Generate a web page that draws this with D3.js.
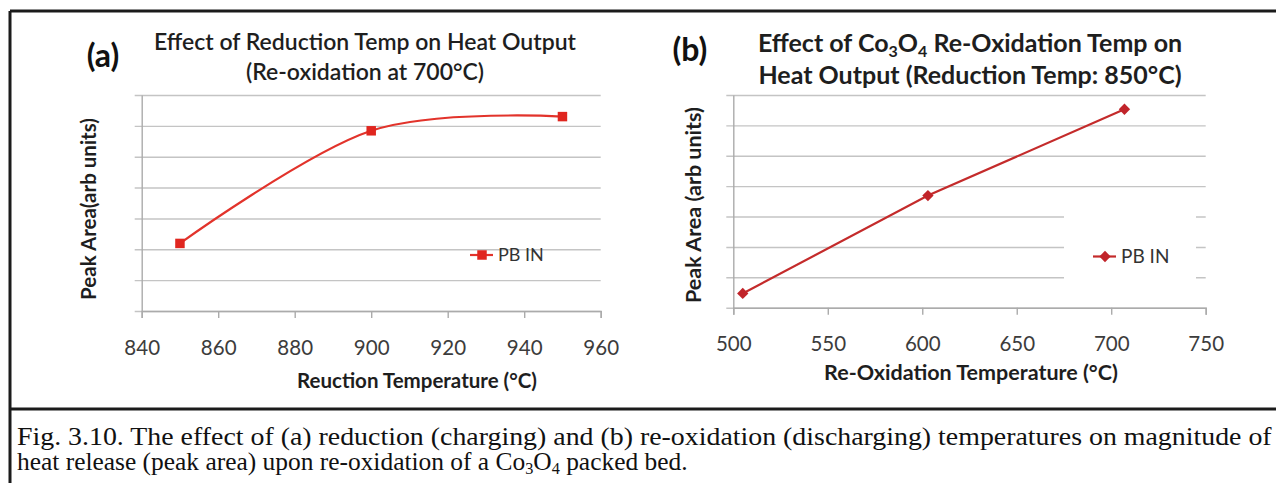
<!DOCTYPE html>
<html>
<head>
<meta charset="utf-8">
<script src="https://cdn.jsdelivr.net/npm/d3@7"></script>
<style>
  html, body { margin: 0; padding: 0; background: #fff; }
  svg { display: block; }
  .grid line { stroke: #c4c4c4; stroke-width: 1.4; }
  .axis path, .axis line { stroke: #ababab; stroke-width: 1.4; }
  .axis text { font-family: Lato, sans-serif; font-size: 20.5px; fill: #3c3c3c; }
</style>
</head>
<body>
<svg id="fig" width="1276" height="483"></svg>
<script>
// --- panel (a): heat output vs reduction temperature (re-oxidation at 700 C) ---
const reductionTemps = [850, 900, 950];
const reductionPeakArea = [2.19, 5.84, 6.30];
const reductionTicks = [840, 860, 880, 900, 920, 940, 960];

// --- panel (b): heat output vs re-oxidation temperature (reduction at 850 C) ---
const reoxTemps = [505, 603, 707];
const reoxPeakArea = [0.47, 3.69, 6.53];
const reoxTicks = [500, 550, 600, 650, 700, 750];

// unlabeled peak-area gridlines (arb units)
const gridSteps = [0, 1, 2, 3, 4, 5, 6, 7];
const seriesName = "PB IN";

const svg = d3.select("#fig");
const sans = "Lato, sans-serif";

const drawPanel = (cfg) => {
    const g = svg.append("g");
    const x = d3.scaleLinear().domain(cfg.xDomain).range([cfg.left, cfg.right]);
    const y = d3.scaleLinear().domain([0, 7]).range([cfg.bottom, cfg.top]);
    const data = cfg.xs.map((v, i) => ({ x: v, y: cfg.ys[i] }));

    // gridlines, sticking out 7px left of the axis like tick marks
    g.append("g")
        .attr("class", "grid")
        .attr("transform", `translate(${cfg.left - 7},0)`)
        .call(d3.axisRight(y).tickValues(gridSteps).tickSize(cfg.right - cfg.left + 7).tickFormat(""))
        .call(s => s.select(".domain").remove());

    // legend box hides part of the grid in (b)
    if (cfg.legendBox) {
        g.append("rect")
            .attr("x", cfg.legendBox[0]).attr("y", cfg.legendBox[1])
            .attr("width", cfg.legendBox[2]).attr("height", cfg.legendBox[3])
            .attr("fill", "#fff");
    }

    // y axis line (no labels)
    g.append("g")
        .attr("class", "axis")
        .attr("transform", `translate(${cfg.left},0)`)
        .call(d3.axisLeft(y).tickValues([]).tickSizeOuter(0));

    // x axis
    g.append("g")
        .attr("class", "axis")
        .attr("transform", `translate(0,${cfg.bottom})`)
        .call(d3.axisBottom(x).tickValues(cfg.ticks).tickSize(7).tickSizeOuter(7).tickPadding(22));

    // series line
    g.append("path")
        .datum(data)
        .attr("fill", "none")
        .attr("stroke", cfg.color)
        .attr("stroke-width", 2.2)
        .attr("d", d3.line().x(d => x(d.x)).y(d => y(d.y)).curve(cfg.curve));

    // markers
    const marker = cfg.diamond
        ? d3.symbol(d3.symbolSquare, 64)
        : d3.symbol(d3.symbolSquare, 90);
    const rot = cfg.diamond ? " rotate(45)" : "";
    g.selectAll(".pt")
        .data(data)
        .enter()
        .append("path")
        .attr("class", "pt")
        .attr("d", marker)
        .attr("transform", d => `translate(${x(d.x)},${y(d.y)})${rot}`)
        .attr("fill", cfg.markerColor);

    // legend
    const lg = g.append("g").attr("transform", `translate(${cfg.legend[0]},${cfg.legend[1]})`);
    lg.append("line")
        .attr("x1", -12).attr("x2", 11)
        .attr("stroke", cfg.color).attr("stroke-width", 2.2);
    lg.append("path")
        .attr("d", marker)
        .attr("transform", cfg.diamond ? "rotate(45)" : null)
        .attr("fill", cfg.markerColor);
    lg.append("text")
        .attr("x", 16).attr("dy", "0.36em")
        .style("font-family", sans).style("font-size", cfg.legendSize).style("fill", "#333")
        .text(seriesName);

    // titles
    cfg.title.forEach((line, i) => {
        const t = g.append("text")
            .attr("x", cfg.titleX).attr("y", cfg.titleY + i * cfg.titleGap)
            .attr("text-anchor", "middle")
            .style("font-family", sans).style("font-size", cfg.titleSize)
            .style("font-weight", cfg.titleWeight).style("fill", "#1e1e1e");
        line.forEach(part => {
            t.append("tspan")
                .attr("dy", part.sub ? 5 : (part.back ? -5 : null))
                .style("font-size", part.sub ? "16px" : null)
                .text(part.s);
        });
    });

    // panel letter
    g.append("text")
        .attr("x", cfg.letter[0]).attr("y", cfg.letter[1])
        .attr("text-anchor", "middle")
        .style("font-family", sans).style("font-size", "32px").style("font-weight", "bold")
        .style("fill", "#111")
        .text(cfg.letter[2]);

    // axis titles
    g.append("text")
        .attr("x", cfg.xLabel[0]).attr("y", cfg.xLabel[1])
        .attr("text-anchor", "middle")
        .style("font-family", sans).style("font-size", cfg.labelSize).style("font-weight", "bold")
        .style("fill", "#1e1e1e")
        .text(cfg.xLabel[2]);

    g.append("text")
        .attr("transform", `translate(${cfg.yLabel[0]},${cfg.yLabel[1]}) rotate(-90)`)
        .attr("text-anchor", "middle")
        .style("font-family", sans).style("font-size", cfg.labelSize).style("font-weight", "bold")
        .style("fill", "#1e1e1e")
        .text(cfg.yLabel[2]);
};

drawPanel({
    xs: reductionTemps, ys: reductionPeakArea, ticks: reductionTicks,
    xDomain: [840, 960], left: 141.7, right: 600.7, top: 95, bottom: 311,
    color: "#e2332b", markerColor: "#e0261f", diamond: false,
    curve: d3.curveCatmullRom.alpha(0),
    legend: [482, 255], legendSize: "18px",
    title: [[{ s: "Effect of Reduction Temp on Heat Output" }], [{ s: "(Re-oxidation at 700°C)" }]],
    titleX: 365, titleY: 50, titleGap: 30, titleSize: "23px", titleWeight: 600,
    letter: [103, 67, "(a)"],
    labelSize: "20.5px",
    xLabel: [417, 388, "Reuction Temperature (°C)"],
    yLabel: [96, 209, "Peak Area(arb units)"]
});

drawPanel({
    xs: reoxTemps, ys: reoxPeakArea, ticks: reoxTicks,
    xDomain: [500, 750], left: 733.3, right: 1205.7, top: 95, bottom: 307.7,
    color: "#c42b2b", markerColor: "#c1242a", diamond: true,
    curve: d3.curveLinear,
    legendBox: [1064, 198, 132, 92],
    legend: [1105, 256.5], legendSize: "19px",
    title: [
        [{ s: "Effect of Co" }, { s: "3", sub: true }, { s: "O", back: true }, { s: "4", sub: true }, { s: " Re-Oxidation Temp on", back: true }],
        [{ s: "Heat Output (Reduction  Temp: 850°C)" }]
    ],
    titleX: 970, titleY: 52, titleGap: 32, titleSize: "25px", titleWeight: "bold",
    letter: [690, 61, "(b)"],
    labelSize: "21.5px",
    xLabel: [971, 380, "Re-Oxidation Temperature (°C)"],
    yLabel: [701, 205, "Peak Area (arb units)"]
});

// frame around the figure and caption
const frame = svg.append("g").attr("stroke", "#1b1b1b").attr("stroke-width", 3);
frame.append("line").attr("x1", 10).attr("x2", 1276).attr("y1", 11).attr("y2", 11);
frame.append("line").attr("x1", 10).attr("x2", 10).attr("y1", 11).attr("y2", 483);
frame.append("line").attr("x1", 10).attr("x2", 1276).attr("y1", 409).attr("y2", 409);

// caption: Times squeezed horizontally to the printed line widths
const captionLine = (y, width, build) => {
    const t = svg.append("text")
        .style("font-family", "'Liberation Serif', 'Times New Roman', Times, serif")
        .style("font-size", "25px").style("fill", "#111");
    build(t);
    const k = width / t.node().getComputedTextLength();
    t.attr("transform", `translate(17,${y}) scale(${k},1)`);
};
captionLine(445, 1255, t => t.text("Fig. 3.10. The effect of (a) reduction (charging) and (b) re-oxidation (discharging) temperatures on magnitude of"));
captionLine(470, 671, t => {
    t.append("tspan").text("heat release (peak area) upon re-oxidation of a Co");
    t.append("tspan").attr("dy", 4).style("font-size", "16px").text("3");
    t.append("tspan").attr("dy", -4).text("O");
    t.append("tspan").attr("dy", 4).style("font-size", "16px").text("4");
    t.append("tspan").attr("dy", -4).text(" packed bed.");
});
</script>
</body>
</html>
